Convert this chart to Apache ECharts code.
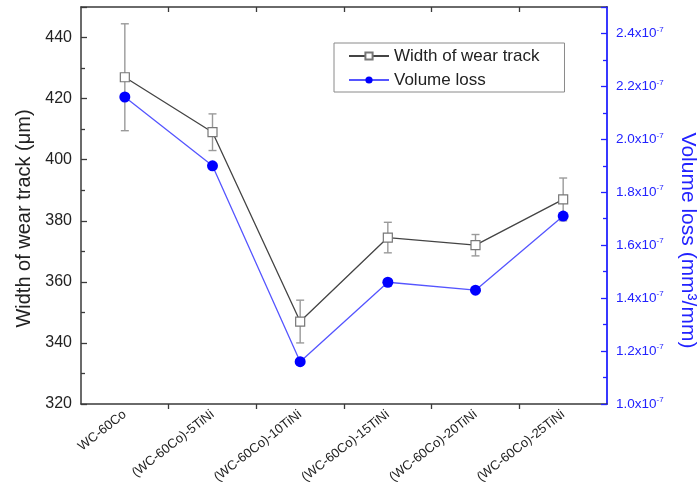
<!DOCTYPE html>
<html>
<head>
<meta charset="utf-8">
<script src="https://cdn.jsdelivr.net/npm/echarts@6/dist/echarts.min.js"></script>
<style>
  html, body { margin: 0; padding: 0; background: #fff; }
  #chart { width: 700px; height: 496px; }
</style>
</head>
<body>
<div id="chart"></div>
<script>
// Samples along the x axis
const categories = ['WC-60Co', '(WC-60Co)-5TiNi', '(WC-60Co)-10TiNi',
                    '(WC-60Co)-15TiNi', '(WC-60Co)-20TiNi', '(WC-60Co)-25TiNi'];
// Width of wear track (µm) and its standard deviation
const trackWidth = [427, 409, 347, 374.5, 372, 387];
const trackWidthErr = [17.5, 6, 7, 5, 3.5, 7];
// Volume loss (mm³/mm)
const volumeLoss = [2.16e-7, 1.90e-7, 1.16e-7, 1.46e-7, 1.43e-7, 1.71e-7];

const FONT = '"Liberation Sans", Arial, sans-serif';
const AXIS_DARK = '#3a3a3a';
const BLUE_AXIS = '#2222ff';

// tick positions that sit between neighbouring categories (minor ticks)
const boundarySlots = Array.from({ length: categories.length + 1 }, () => '');

const chart = echarts.init(document.getElementById('chart'), null, { renderer: 'canvas' });

const errorData = categories.map((c, i) => [i, trackWidth[i], trackWidthErr[i]]);

const option = {
  animation: false,
  backgroundColor: '#fff',
  textStyle: { fontFamily: FONT },
  grid: { left: 81, right: 93, top: 7, bottom: 92, containLabel: false, outerBoundsMode: 'none' },
  legend: {
    orient: 'vertical',
    left: 334,
    top: 43,
    data: ['Width of wear track', 'Volume loss'],
    backgroundColor: '#fff',
    borderColor: '#8a8a8a',
    borderWidth: 1,
    borderRadius: 0,
    padding: [3, 25, 2, 14],
    itemWidth: 40,
    itemHeight: 9,
    itemGap: 4,
    textStyle: { fontFamily: FONT, fontSize: 17, color: '#222', lineHeight: 20 }
  },
  xAxis: [
    { // bottom category axis with labels and major ticks
      type: 'category',
      data: categories,
      position: 'bottom',
      boundaryGap: true,
      axisLine: { lineStyle: { color: AXIS_DARK, width: 1.5 } },
      axisTick: { alignWithLabel: true, inside: false, length: 9, lineStyle: { color: AXIS_DARK, width: 1.3 } },
      axisLabel: { rotate: 38, margin: 9, fontSize: 13, color: '#222', fontFamily: FONT, interval: 0 },
      splitLine: { show: false }
    },
    { // bottom minor ticks between categories
      type: 'category',
      data: boundarySlots,
      position: 'bottom',
      boundaryGap: false,
      axisLine: { show: false },
      axisTick: { interval: (i) => i > 0 && i < categories.length, inside: false, length: 5,
                  lineStyle: { color: AXIS_DARK, width: 1.3 } },
      axisLabel: { show: false },
      splitLine: { show: false }
    },
    { // top frame with major ticks
      type: 'category',
      data: categories,
      position: 'top',
      boundaryGap: true,
      axisLine: { lineStyle: { color: AXIS_DARK, width: 1.5 } },
      axisTick: { alignWithLabel: true, inside: true, length: 8, lineStyle: { color: AXIS_DARK, width: 1.3 } },
      axisLabel: { show: false },
      splitLine: { show: false }
    },
    { // top minor ticks
      type: 'category',
      data: boundarySlots,
      position: 'top',
      boundaryGap: false,
      axisLine: { show: false },
      axisTick: { interval: (i) => i > 0 && i < categories.length, inside: true, length: 5,
                  lineStyle: { color: AXIS_DARK, width: 1.3 } },
      axisLabel: { show: false },
      splitLine: { show: false }
    }
  ],
  yAxis: [
    {
      type: 'value',
      position: 'left',
      min: 320,
      max: 450,
      interval: 20,
      name: 'Width of wear track (μm)',
      nameLocation: 'middle',
      nameRotate: 90,
      nameGap: 47,
      nameTextStyle: { fontSize: 20, color: '#222', fontFamily: FONT, padding: [0, 26, 0, 0] },
      axisLine: { show: true, lineStyle: { color: AXIS_DARK, width: 1.5 } },
      axisTick: { show: true, inside: true, length: 6, lineStyle: { color: AXIS_DARK, width: 1.3 } },
      minorTick: { show: true, splitNumber: 2, length: 4, lineStyle: { color: AXIS_DARK, width: 1.3 } },
      axisLabel: { fontSize: 16, color: '#222', margin: 9, fontFamily: FONT,
                   formatter: (v) => (v > 445 ? '' : String(v)) },
      splitLine: { show: false }
    },
    {
      type: 'value',
      position: 'right',
      min: 1.0e-7,
      max: 2.5e-7,
      interval: 0.2e-7,
      name: 'Volume loss (mm³/mm)',
      nameLocation: 'middle',
      nameRotate: -90,
      nameGap: 70,
      nameTextStyle: { fontSize: 21, color: BLUE_AXIS, fontFamily: FONT, padding: [0, 0, 0, 70] },
      axisLine: { show: true, lineStyle: { color: BLUE_AXIS, width: 1.8 } },
      axisTick: { show: true, inside: true, length: 6, lineStyle: { color: BLUE_AXIS, width: 1.3 } },
      minorTick: { show: true, splitNumber: 2, length: 4, lineStyle: { color: BLUE_AXIS, width: 1.3 } },
      axisLabel: {
        margin: 9,
        color: BLUE_AXIS,
        fontFamily: FONT,
        formatter: (v) => {
          const m = v / 1e-7;
          if (m > 2.45) return '';
          return '{a|' + m.toFixed(1) + 'x10}{s|-7}';
        },
        rich: {
          a: { fontSize: 13.5, color: BLUE_AXIS, fontFamily: FONT, lineHeight: 16 },
          s: { fontSize: 8, color: BLUE_AXIS, fontFamily: FONT, lineHeight: 9, verticalAlign: 'top' }
        }
      },
      splitLine: { show: false }
    }
  ],
  series: [
    {
      name: 'Width error',
      type: 'custom',
      xAxisIndex: 0,
      yAxisIndex: 0,
      z: 1,
      encode: { x: 0, y: 1 },
      data: errorData,
      renderItem: (params, api) => {
        const i = api.value(0);
        const mean = api.value(1);
        const err = api.value(2);
        const hi = api.coord([i, mean + err]);
        const lo = api.coord([i, mean - err]);
        const cap = 4;
        const st = { stroke: '#9a9a9a', lineWidth: 1.4 };
        return {
          type: 'group',
          children: [
            { type: 'line', shape: { x1: hi[0], y1: hi[1], x2: lo[0], y2: lo[1] }, style: st },
            { type: 'line', shape: { x1: hi[0] - cap, y1: hi[1], x2: hi[0] + cap, y2: hi[1] }, style: st },
            { type: 'line', shape: { x1: lo[0] - cap, y1: lo[1], x2: lo[0] + cap, y2: lo[1] }, style: st }
          ]
        };
      }
    },
    {
      name: 'Width of wear track',
      type: 'line',
      xAxisIndex: 0,
      yAxisIndex: 0,
      z: 3,
      data: trackWidth,
      symbol: 'rect',
      symbolSize: 9,
      showAllSymbol: true,
      lineStyle: { color: '#444', width: 1.3 },
      itemStyle: { color: '#fff', borderColor: '#777', borderWidth: 1.2 }
    },
    {
      name: 'Volume loss',
      type: 'line',
      xAxisIndex: 0,
      yAxisIndex: 1,
      z: 3,
      data: volumeLoss,
      symbol: 'circle',
      symbolSize: 11,
      showAllSymbol: true,
      lineStyle: { color: '#5555ff', width: 1.3 },
      itemStyle: { color: '#0000ff', borderColor: '#0000ff', borderWidth: 0 }
    }
  ]
};

chart.setOption(option);
</script>
</body>
</html>
